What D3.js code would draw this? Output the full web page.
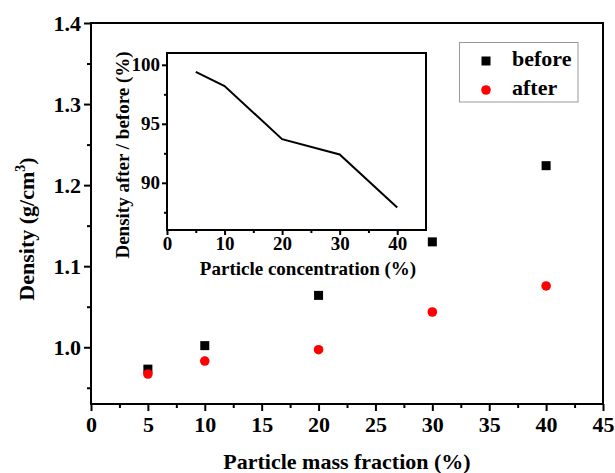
<!DOCTYPE html>
<html>
<head>
<meta charset="utf-8">
<script src="https://cdn.jsdelivr.net/npm/d3@7"></script>
<style>
  html, body { margin: 0; padding: 0; background: #fff; }
  svg { display: block; }
  text { font-family: "Liberation Serif", "Times New Roman", serif; font-weight: bold; fill: #000; }
</style>
</head>
<body>
<svg id="chart" width="615" height="473"></svg>
<script>
// Density of samples at each particle mass fraction
const massFraction = [5, 10, 20, 30, 40];
const densityBefore = [0.973, 1.002, 1.064, 1.130, 1.224];
const densityAfter = [0.967, 0.983, 0.997, 1.0435, 1.0756];

// Inset: ratio of densities after / before (%)
const concentration = [5, 10, 20, 30, 40];
const ratioPercent = [99.4, 98.2, 93.7, 92.4, 87.9];

const xTicks = [0, 5, 10, 15, 20, 25, 30, 35, 40, 45];
const yTicks = [1.0, 1.1, 1.2, 1.3, 1.4];
const insetXTicks = [0, 10, 20, 30, 40];
const insetYTicks = [90, 95, 100];

const seriesNames = ["before", "after"];

const svg = d3.select("#chart");

// ---------- main plot ----------
const L = 91, R = 603, T = 23, B = 404;
const x = d3.scaleLinear().domain([0, 45]).range([L, R]);
const y = d3.scaleLinear().domain([0.93, 1.4]).range([B, T]);

const main = svg.append("g");

function styleAxis(g, fontSize) {
  g.select(".domain").remove();
  g.selectAll("line").attr("stroke", "#000").attr("stroke-width", 2);
  g.selectAll("text").style("font-size", fontSize + "px");
}

// minor ticks
main.append("g").attr("transform", `translate(0,${B})`)
  .call(d3.axisBottom(x).tickValues(d3.range(2.5, 45, 5)).tickSize(4).tickFormat(""))
  .call(g => styleAxis(g, 22));
main.append("g").attr("transform", `translate(${L},0)`)
  .call(d3.axisLeft(y).tickValues(d3.range(0.95, 1.4, 0.1)).tickSize(4).tickFormat(""))
  .call(g => styleAxis(g, 22));

// major ticks
main.append("g").attr("transform", `translate(0,${B})`)
  .call(d3.axisBottom(x).tickValues(xTicks).tickSize(7).tickPadding(5).tickFormat(d3.format("d")))
  .call(g => styleAxis(g, 22));
main.append("g").attr("transform", `translate(${L},0)`)
  .call(d3.axisLeft(y).tickValues(yTicks).tickSize(7).tickPadding(3).tickFormat(d3.format(".1f")))
  .call(g => styleAxis(g, 22));

main.append("rect")
  .attr("x", L).attr("y", T).attr("width", R - L).attr("height", B - T)
  .attr("fill", "none").attr("stroke", "#000").attr("stroke-width", 2);

// axis titles
main.append("text")
  .attr("x", (L + R) / 2).attr("y", 469)
  .attr("text-anchor", "middle").style("font-size", "22px")
  .text("Particle mass fraction (%)");

const yTitle = main.append("text")
  .attr("transform", `translate(34,229) rotate(-90)`)
  .attr("text-anchor", "middle").style("font-size", "22px");
yTitle.append("tspan").text("Density (g/cm");
yTitle.append("tspan").attr("dy", -9).style("font-size", "14px").text("3");
yTitle.append("tspan").attr("dy", 9).text(")");

// markers
const sq = 9;
main.append("g").selectAll("rect")
  .data(massFraction.map((m, i) => [m, densityBefore[i]]))
  .join("rect")
  .attr("x", d => x(d[0]) - sq / 2).attr("y", d => y(d[1]) - sq / 2)
  .attr("width", sq).attr("height", sq).attr("fill", "#000");

main.append("g").selectAll("circle")
  .data(massFraction.map((m, i) => [m, densityAfter[i]]))
  .join("circle")
  .attr("cx", d => x(d[0])).attr("cy", d => y(d[1]))
  .attr("r", 4.8).attr("fill", "#ff0000");

// legend
const lg = main.append("g");
lg.append("rect")
  .attr("x", 459.5).attr("y", 42.5).attr("width", 118.5).attr("height", 59.5)
  .attr("fill", "#fff").attr("stroke", "#999").attr("stroke-width", 1);
lg.append("rect").attr("x", 486 - sq / 2).attr("y", 61 - sq / 2)
  .attr("width", sq).attr("height", sq).attr("fill", "#000");
lg.append("circle").attr("cx", 486).attr("cy", 90).attr("r", 4.8).attr("fill", "#ff0000");
lg.append("text").attr("x", 512).attr("y", 66).style("font-size", "22px").text(seriesNames[0]);
lg.append("text").attr("x", 512).attr("y", 95).style("font-size", "22px").text(seriesNames[1]);

// ---------- inset ----------
const iL = 167, iR = 426, iT = 53, iB = 230;
const ix = d3.scaleLinear().domain([0, 45]).range([iL, iR]);
const iy = d3.scaleLinear().domain([86, 101]).range([iB, iT]);
const inset = svg.append("g");

inset.append("g").attr("transform", `translate(0,${iB})`)
  .call(d3.axisBottom(ix).tickValues([5, 15, 25, 35]).tickSize(3).tickFormat(""))
  .call(g => styleAxis(g, 19));
inset.append("g").attr("transform", `translate(${iL},0)`)
  .call(d3.axisLeft(iy).tickValues([87.5, 92.5, 97.5]).tickSize(3).tickFormat(""))
  .call(g => styleAxis(g, 19));
inset.append("g").attr("transform", `translate(0,${iB})`)
  .call(d3.axisBottom(ix).tickValues(insetXTicks).tickSize(5).tickPadding(2).tickFormat(d3.format("d")))
  .call(g => styleAxis(g, 19));
inset.append("g").attr("transform", `translate(${iL},0)`)
  .call(d3.axisLeft(iy).tickValues(insetYTicks).tickSize(5).tickPadding(2).tickFormat(d3.format("d")))
  .call(g => styleAxis(g, 19));

inset.append("rect")
  .attr("x", iL).attr("y", iT).attr("width", iR - iL).attr("height", iB - iT)
  .attr("fill", "none").attr("stroke", "#000").attr("stroke-width", 2);

inset.append("path")
  .datum(concentration.map((c, i) => [c, ratioPercent[i]]))
  .attr("fill", "none").attr("stroke", "#000").attr("stroke-width", 2)
  .attr("d", d3.line().x(d => ix(d[0])).y(d => iy(d[1])));

inset.append("text")
  .attr("x", 308).attr("y", 275)
  .attr("text-anchor", "middle").style("font-size", "19px")
  .text("Particle concentration (%)");

inset.append("text")
  .attr("transform", `translate(129,155) rotate(-90)`)
  .attr("text-anchor", "middle").style("font-size", "19px")
  .text("Density after / before (%)");
</script>
</body>
</html>
